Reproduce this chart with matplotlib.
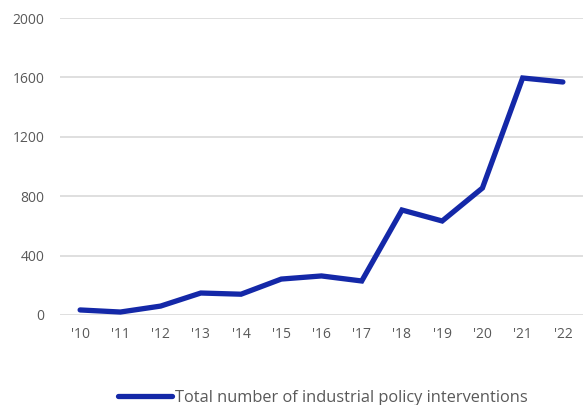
import matplotlib.pyplot as plt

years = ["'10", "'11", "'12", "'13", "'14", "'15", "'16", "'17", "'18", "'19", "'20", "'21", "'22"]
interventions = [34, 20, 60, 148, 140, 242, 263, 229, 707, 633, 855, 1596, 1569]
y_ticks = [0, 400, 800, 1200, 1600, 2000]

plt.rcParams['font.family'] = ['Open Sans', 'DejaVu Sans']

fig = plt.figure(figsize=(5.83, 4.05), dpi=100)
ax = fig.add_axes([60 / 583, 1 - 315 / 405, 1 - 60 / 583, 297 / 405])

line, = ax.plot(range(len(years)), interventions, color='#1428a8', lw=3.8,
                solid_capstyle='round', solid_joinstyle='miter',
                label='Total number of industrial policy interventions')

ax.set_xlim(-0.5, len(years) - 0.5)
ax.set_ylim(0, 2000)
ax.set_yticks(y_ticks)
ax.set_xticks(range(len(years)))
ax.set_xticklabels(years)
ax.yaxis.grid(True, color='#d9d9d9', lw=1.2)
ax.set_axisbelow(True)
for s in ax.spines.values():
    s.set_visible(False)
ax.tick_params(length=0, labelsize=10, labelcolor='#595959')
ax.tick_params(axis='y', pad=11)
ax.tick_params(axis='x', pad=9)

fig.legend(handles=[line], loc='center', bbox_to_anchor=(323 / 583, 1 - 398 / 405),
           frameon=False, fontsize=11.8, labelcolor='#595959', handlelength=3.3,
           handletextpad=0.15)

fig.savefig('out.png', dpi=100)
